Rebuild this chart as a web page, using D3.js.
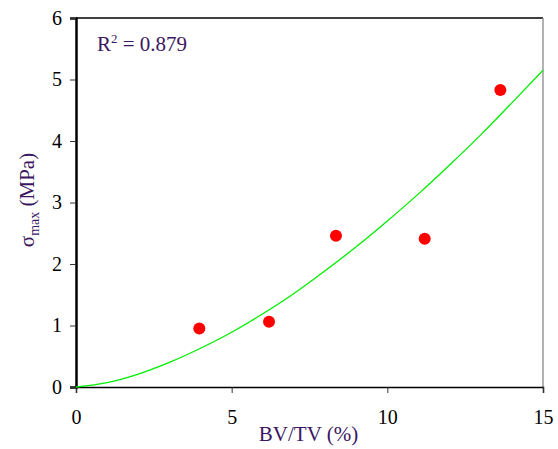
<!DOCTYPE html>
<html>
<head>
<meta charset="utf-8">
<script src="https://cdn.jsdelivr.net/npm/d3@7"></script>
<style>
  body { margin: 0; background: #fff; }
  svg text { font-family: "Liberation Serif", "Times New Roman", Times, serif; }
</style>
</head>
<body>
<svg id="svg" width="558" height="449"></svg>
<script>
// measured points
var bvtv = [3.96, 6.2, 8.35, 11.2, 13.63];
var sigmaMax = [0.95, 1.06, 2.46, 2.41, 4.83];

// trendline
var trendX = [0, 1, 2, 3, 4, 5, 6, 7, 8, 9, 10, 11, 12, 13, 14, 15];
var trendY = [0, 0.07, 0.21, 0.40, 0.63, 0.89, 1.19, 1.52, 1.89, 2.28, 2.70, 3.14, 3.61, 4.10, 4.62, 5.15];

var xTicks = [0, 5, 10, 15];
var yTicks = [0, 1, 2, 3, 4, 5, 6];
var r2Label = "0.879";

var serif = '"Liberation Serif", "Times New Roman", Times, serif';

var margin = {left: 76, top: 18, right: 15, bottom: 62};
var width = 558 - margin.left - margin.right,
    height = 449 - margin.top - margin.bottom;

var svg = d3.select("#svg").attr("font-family", serif);
var g = svg.append("g").attr("transform", "translate(" + margin.left + "," + margin.top + ")");

var x = d3.scaleLinear().domain([0, 15]).range([0, width]);
var y = d3.scaleLinear().domain([0, 6]).range([height, 0]);

// frame top / right
g.append("line")
    .attr("x1", 0).attr("x2", width).attr("y1", 0).attr("y2", 0)
    .attr("stroke", "#000").attr("stroke-width", 1.5);
g.append("line")
    .attr("x1", width).attr("x2", width).attr("y1", 0).attr("y2", height)
    .attr("stroke", "#999").attr("stroke-width", 1.5);

// axes
var xAxis = g.append("g")
    .attr("transform", "translate(0," + height + ")")
    .call(d3.axisBottom(x).tickValues(xTicks).tickFormat(d3.format("d")).tickSize(6).tickPadding(17));
var yAxis = g.append("g")
    .call(d3.axisLeft(y).tickValues(yTicks).tickFormat(d3.format("d")).tickSize(6).tickPadding(8));

xAxis.select(".domain").attr("stroke", "#000").attr("stroke-width", 1.5);
yAxis.select(".domain").attr("stroke", "#000").attr("stroke-width", 2.5);
[xAxis, yAxis].forEach(function (ax) {
    ax.attr("font-family", serif).attr("font-size", 20);
    ax.selectAll(".tick line").attr("stroke", "#333");
    ax.selectAll(".tick text").attr("fill", "#000");
});

// trendline
var line = d3.line()
    .x(function (d, i) { return x(trendX[i]); })
    .y(function (d) { return y(d); })
    .curve(d3.curveMonotoneX);
g.append("path")
    .datum(trendY)
    .attr("d", line)
    .attr("fill", "none")
    .attr("stroke", "#00ee00")
    .attr("stroke-width", 1.3);

// points
g.selectAll("circle.pt")
    .data(bvtv)
    .enter().append("circle")
    .attr("class", "pt")
    .attr("cx", function (d) { return x(d); })
    .attr("cy", function (d, i) { return y(sigmaMax[i]); })
    .attr("r", 6)
    .attr("fill", "#ff0000");

var purple = "#3b1760";

// R^2 annotation
var r2 = g.append("text")
    .attr("x", 21).attr("y", 33)
    .attr("fill", purple)
    .attr("font-size", 21);
r2.append("tspan").text("R");
r2.append("tspan").attr("dy", -8).attr("font-size", 13).text("2");
r2.append("tspan").attr("dy", 8).text(" = " + r2Label);

// x label
svg.append("text")
    .attr("x", margin.left + width / 2 - 1)
    .attr("y", 441)
    .attr("text-anchor", "middle")
    .attr("fill", purple)
    .attr("font-size", 21)
    .text("BV/TV (%)");

// y label
var yl = svg.append("text")
    .attr("transform", "translate(34,200) rotate(-90)")
    .attr("text-anchor", "middle")
    .attr("fill", purple)
    .attr("font-size", 21);
yl.append("tspan").text("σ");
yl.append("tspan").attr("dy", 5).attr("font-size", 14).text("max");
yl.append("tspan").attr("dy", -5).text(" (MPa)");
</script>
</body>
</html>
